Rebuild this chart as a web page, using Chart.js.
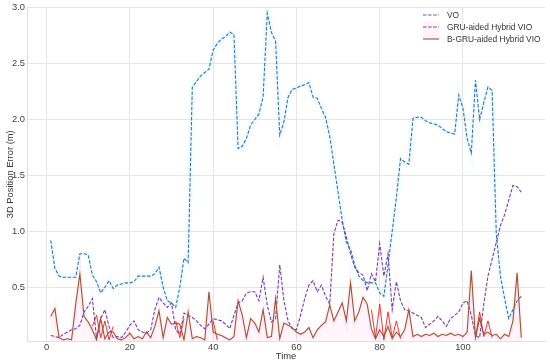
<!DOCTYPE html>
<html>
<head>
<meta charset="utf-8">
<script src="https://cdn.jsdelivr.net/npm/chart.js@4.4.1/dist/chart.umd.min.js"></script>
<style>
  html, body { margin: 0; padding: 0; background: #fff; }
  canvas { display: block; }
</style>
</head>
<body>
<canvas id="grafico-erro" width="550" height="364"></canvas>
<script>
// Dados
const time = [1,2,3,4,5,6,7,8,9,10,11,12,13,14,15,16,17,18,19,20,
  21,22,23,24,25,26,27,28,29,30,31,32,33,34,35,36,37,38,39,40,
  41,42,43,44,45,46,47,48,49,50,51,52,53,54,55,56,57,58,59,60,
  61,62,63,64,65,66,67,68,69,70,71,72,73,74,75,76,77,78,79,80,
  81,82,83,84,85,86,87,88,89,90,91,92,93,94,95,96,97,98,99,100,
  101,102,103,104,105,106,107,108,109,110,111,112,113,114]

const vo = [0.92,0.67,0.60,0.59,0.59,0.59,0.59,0.80,0.80,0.79,
  0.61,0.55,0.45,0.50,0.56,0.49,0.52,0.53,0.54,0.54,
  0.55,0.60,0.60,0.60,0.60,0.62,0.68,0.50,0.38,0.36,
  0.32,0.50,0.76,0.72,2.29,2.34,2.39,2.42,2.45,2.62,
  2.68,2.72,2.74,2.78,2.76,1.74,1.76,1.83,1.95,2.00,
  2.05,2.20,2.95,2.78,2.70,1.86,1.98,2.20,2.27,2.28,
  2.30,2.31,2.33,2.20,2.19,2.10,2.02,1.85,1.60,1.35,
  1.10,0.90,0.84,0.70,0.60,0.56,0.54,0.54,0.54,0.45,
  0.42,0.70,1.00,1.30,1.65,1.62,1.60,2.01,2.02,2.02,
  1.99,1.97,1.96,1.95,1.92,1.89,1.88,1.87,2.22,2.10,
  1.83,1.70,2.35,2.00,2.15,2.29,2.26,0.98,0.60,0.40,
  0.22,0.30,0.38,0.42]

const gru = [0.07,0.06,0.05,0.08,0.10,0.12,0.13,0.16,0.28,0.33,
  0.40,0.05,0.22,0.30,0.15,0.05,0.06,0.05,0.10,0.16,
  0.20,0.12,0.10,0.09,0.12,0.30,0.41,0.36,0.32,0.36,
  0.12,0.08,0.27,0.25,0.23,0.20,0.16,0.13,0.17,0.22,
  0.21,0.20,0.17,0.13,0.25,0.36,0.38,0.45,0.46,0.46,
  0.38,0.59,0.34,0.19,0.22,0.70,0.38,0.20,0.13,0.12,
  0.25,0.40,0.52,0.56,0.46,0.52,0.42,0.35,0.98,1.10,
  1.08,0.95,0.80,0.68,0.63,0.61,0.47,0.62,0.55,0.89,
  0.60,0.80,0.30,0.55,0.38,0.30,0.29,0.27,0.25,0.23,
  0.14,0.17,0.20,0.24,0.20,0.15,0.22,0.25,0.28,0.36,
  0.38,0.25,0.07,0.05,0.35,0.60,0.75,0.90,1.05,1.15,
  1.28,1.41,1.40,1.35]

const bgru = [0.24,0.31,0.05,0.03,0.04,0.03,0.35,0.62,0.24,0.19,
  0.12,0.03,0.22,0.04,0.10,0.10,0.04,0.03,0.05,0.09,
  0.04,0.06,0.04,0.10,0.05,0.15,0.29,0.05,0.23,0.17,
  0.18,0.17,0.03,0.28,0.04,0.06,0.05,0.03,0.46,0.10,
  0.08,0.07,0.05,0.03,0.06,0.38,0.25,0.05,0.22,0.18,
  0.10,0.30,0.05,0.06,0.40,0.04,0.18,0.16,0.14,0.10,
  0.08,0.10,0.14,0.05,0.12,0.16,0.19,0.34,0.20,0.28,
  0.36,0.20,0.54,0.20,0.28,0.41,0.35,0.13,0.04,0.12,
  0.06,0.15,0.04,0.10,0.06,0.12,0.30,0.06,0.08,0.06,
  0.08,0.07,0.09,0.06,0.08,0.07,0.09,0.07,0.08,0.06,
  0.10,0.65,0.05,0.22,0.08,0.10,0.07,0.08,0.04,0.08,
  0.06,0.20,0.63,0.05]

// trechos vermelhos (sinal bruto) que aparecem por baixo da curva B-GRU
const bgruRaw = [null,null,null,null,null,null,null,null,null,null,
  0.15,0.25,0.05,0.20,0.03,0.15,null,null,null,null,
  null,null,null,null,null,null,null,null,null,null,
  0.20,0.05,0.22,null,null,null,null,null,null,0.20,
  0.03,null,null,null,null,null,null,null,null,null,
  null,null,null,null,null,null,null,null,null,null,
  null,null,null,null,null,null,null,null,null,null,
  null,null,null,null,null,null,null,0.30,0.05,0.35,
  0.03,0.28,0.05,0.20,0.04,null,null,null,null,null,
  null,null,null,null,null,null,null,null,null,null,
  null,null,0.05,0.28,0.06,0.20,0.05,null,null,null,
  null,null,null,null]

const xTicks = [0, 20, 40, 60, 80, 100]
const yTicks = [0.5, 1.0, 1.5, 2.0, 2.5, 3.0]

const seriesLabels = ["VO", "GRU-aided Hybrid VIO", "B-GRU-aided Hybrid VIO"]

////////////////////////// FUNÇÕES //////////////////////////////////////

function pontos(valores) {
    return time.map((t, i) => ({ x: t, y: valores[i] }))
}

// Legenda desenhada dentro da área do gráfico (canto superior direito)
const legendaInterna = {
    id: 'legendaInterna',
    afterDraw(chart) {
        const ctx = chart.ctx
        const itens = chart.data.datasets.filter(d => d.label)
        const x0 = 423, y0 = 15, linha = 12
        ctx.save()
        // mancha rosa atrás das amostras
        ctx.fillStyle = 'rgba(255, 120, 200, 0.09)'
        ctx.fillRect(x0, y0 + 6, 16, 18)
        ctx.font = '8.4px "Liberation Sans", Arial, sans-serif'
        ctx.textBaseline = 'middle'
        itens.forEach((d, i) => {
            const y = y0 + i * linha
            ctx.strokeStyle = d.borderColor
            ctx.lineWidth = d.borderWidth
            ctx.setLineDash(d.borderDash || [])
            ctx.beginPath()
            ctx.moveTo(x0, y)
            ctx.lineTo(x0 + 16, y)
            ctx.stroke()
            ctx.setLineDash([])
            ctx.fillStyle = '#333'
            ctx.fillText(d.label, x0 + 24, y + 0.5)
        })
        ctx.restore()
    }
}

Chart.defaults.font.family = '"Liberation Sans", Arial, sans-serif'
Chart.defaults.color = '#444'

const graficoErro = document.getElementById('grafico-erro')

new Chart(graficoErro, {
    type: 'line',
    data: {
        datasets: [
            // faixa clara ao redor do VO
            {
                label: '',
                data: pontos(vo),
                borderColor: 'rgba(170, 240, 250, 0.16)',
                borderWidth: 6,
                pointRadius: 0,
                order: 9
            },
            // faixa rosa das curvas híbridas
            {
                label: '',
                data: pontos(bgru),
                borderColor: 'rgba(255, 150, 215, 0.10)',
                borderWidth: 5,
                backgroundColor: 'rgba(255, 120, 200, 0.07)',
                fill: 'origin',
                pointRadius: 0,
                order: 8
            },
            {
                label: seriesLabels[0],
                data: pontos(vo),
                borderColor: '#3a6fb4',
                borderWidth: 1.1,
                borderDash: [3.5, 1.6],
                pointRadius: 0,
                order: 4
            },
            {
                label: seriesLabels[1],
                data: pontos(gru),
                borderColor: '#7a3ab5',
                borderWidth: 1.1,
                borderDash: [3.5, 1.6],
                pointRadius: 0,
                order: 3
            },
            {
                label: '',
                data: pontos(bgruRaw),
                borderColor: 'rgba(240, 20, 20, 0.85)',
                borderWidth: 1,
                pointRadius: 0,
                spanGaps: false,
                order: 2
            },
            {
                label: seriesLabels[2],
                data: pontos(bgru),
                borderColor: '#9c552c',
                borderWidth: 1.1,
                pointRadius: 0,
                order: 1
            }
        ]
    },
    plugins: [legendaInterna],
    options: {
        responsive: false,
        animation: false,
        devicePixelRatio: 1,
        layout: { padding: { top: 7, right: 5, left: 0, bottom: 0 } },
        plugins: {
            legend: { display: false },
            tooltip: { enabled: false }
        },
        scales: {
            x: {
                type: 'linear',
                min: -4.7,
                max: 119.7,
                afterBuildTicks: s => { s.ticks = xTicks.map(v => ({ value: v })) },
                afterFit: s => { s.height = 23 },
                ticks: {
                    font: { size: 9.4 },
                    color: '#444',
                    padding: 1,
                    maxRotation: 0,
                    callback: v => String(v)
                },
                grid: { color: '#e6e6e6', drawTicks: false },
                border: { color: '#e0e0e0' },
                title: {
                    display: true,
                    text: 'Time',
                    color: '#333',
                    font: { size: 9.4 },
                    padding: { top: 0, bottom: 2 }
                }
            },
            y: {
                min: 0.02,
                max: 3.0,
                afterBuildTicks: s => { s.ticks = yTicks.map(v => ({ value: v })) },
                afterFit: s => { s.width = 27 },
                ticks: {
                    font: { size: 9.4 },
                    color: '#444',
                    padding: 2,
                    callback: v => v.toFixed(1)
                },
                grid: { color: '#e6e6e6', drawTicks: false },
                border: { color: '#e0e0e0' },
                title: {
                    display: true,
                    text: '3D Position Error (m)',
                    color: '#333',
                    font: { size: 9.4 },
                    padding: { top: 5, bottom: 0 }
                }
            }
        }
    }
})
</script>
</body>
</html>
